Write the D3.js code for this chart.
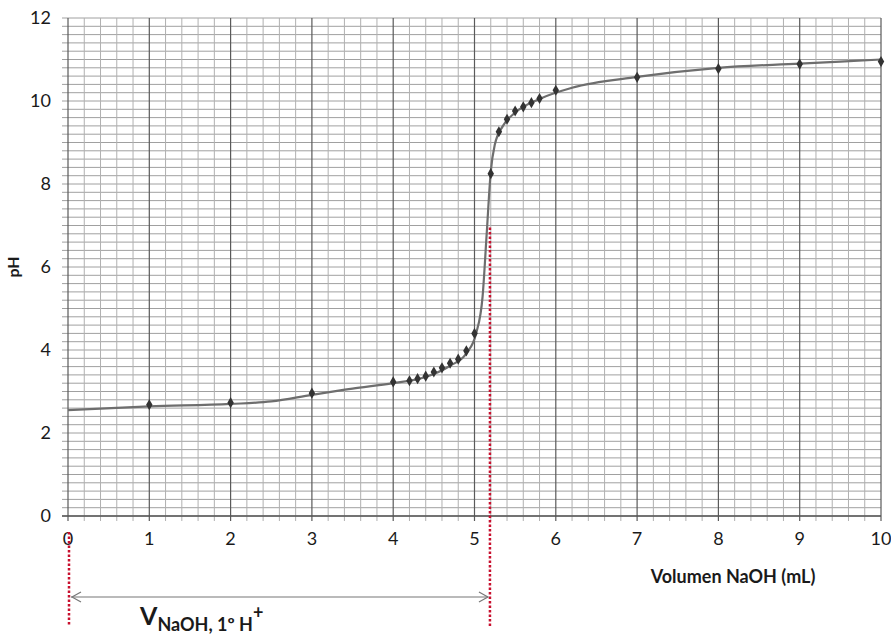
<!DOCTYPE html>
<html>
<head>
<meta charset="utf-8">
<script src="https://cdn.jsdelivr.net/npm/d3@7"></script>
<style>
  body { margin: 0; background: #fff; }
  svg { display: block; }
</style>
</head>
<body>
<div id="chart"></div>
<script>
// measured points (mL NaOH, pH)
const volume = [1, 2, 3, 4, 4.2, 4.3, 4.4, 4.5, 4.6, 4.7, 4.8, 4.9, 5.0, 5.2, 5.3, 5.4, 5.5, 5.6, 5.7, 5.8, 6, 7, 8, 9, 10];
const pH = [2.68, 2.73, 2.96, 3.23, 3.26, 3.31, 3.37, 3.47, 3.57, 3.68, 3.78, 3.98, 4.40, 8.25, 9.26, 9.56, 9.76, 9.86, 9.96, 10.06, 10.26, 10.57, 10.78, 10.89, 10.95];

// hand drawn curve
const curveVol = [0, 1, 2, 2.5, 3, 3.5, 4, 4.4, 4.7, 4.9, 5.02, 5.1, 5.15, 5.2, 5.25, 5.35, 5.5, 5.8, 6.2, 7, 8, 9, 10];
const curvePH = [2.55, 2.64, 2.7, 2.76, 2.92, 3.07, 3.2, 3.35, 3.62, 3.92, 4.4, 5.3, 6.8, 8.3, 8.95, 9.4, 9.72, 10.05, 10.32, 10.58, 10.8, 10.9, 11.0];

const xTicks = [0, 1, 2, 3, 4, 5, 6, 7, 8, 9, 10];
const yTicks = [0, 2, 4, 6, 8, 10, 12];
const equivVol = 5.19; // first equivalence point
const equivTop = 6.95;

const W = 891, H = 636;
const x = d3.scaleLinear().domain([0, 10]).range([68, 881]);
const y = d3.scaleLinear().domain([0, 12]).range([516, 18]);

const svg = d3.select("#chart").append("svg")
  .attr("width", W).attr("height", H)
  .style("font-family", "Lato, 'Open Sans', sans-serif");

// millimetre-ish grid, every 0.2
const minor = d3.range(0, 10.001, 0.2);
const minorY = d3.range(0, 12.001, 0.2);
const isMajor = d => Math.abs(d - Math.round(d)) < 1e-6;

svg.append("g").selectAll("line")
  .data(minorY)
  .enter().append("line")
  .attr("x1", x(0) - 6).attr("x2", x(10))
  .attr("y1", d => y(d)).attr("y2", d => y(d))
  .attr("stroke", "#a0a0a0")
  .attr("stroke-width", 1);

svg.append("g").selectAll("line")
  .data(minor)
  .enter().append("line")
  .attr("x1", d => x(d)).attr("x2", d => x(d))
  .attr("y1", y(12)).attr("y2", y(0) + 5)
  .attr("stroke", d => isMajor(d) ? "#5a5a5a" : "#b0b0b0")
  .attr("stroke-width", d => isMajor(d) ? 1.2 : 1);

// axis line
svg.append("line")
  .attr("x1", x(0) - 6).attr("x2", x(10))
  .attr("y1", y(0)).attr("y2", y(0))
  .attr("stroke", "#555").attr("stroke-width", 1.3);

// tick labels
svg.append("g").selectAll("text")
  .data(yTicks)
  .enter().append("text")
  .attr("x", 51)
  .attr("y", d => y(d) + 6)
  .attr("text-anchor", "end")
  .attr("font-size", "18px")
  .attr("fill", "#1a1a1a")
  .text(d => d);

svg.append("g").selectAll("text")
  .data(xTicks)
  .enter().append("text")
  .attr("x", d => x(d))
  .attr("y", 545)
  .attr("text-anchor", "middle")
  .attr("font-size", "18px")
  .attr("fill", "#1a1a1a")
  .text(d => d);

// axis titles
svg.append("text")
  .attr("x", 733).attr("y", 583)
  .attr("text-anchor", "middle")
  .attr("font-size", "18px")
  .attr("font-weight", "bold")
  .attr("fill", "#1a1a1a")
  .text("Volumen NaOH (mL)");

svg.append("text")
  .attr("transform", "translate(19,267) rotate(-90)")
  .attr("text-anchor", "middle")
  .attr("font-size", "16px")
  .attr("font-weight", "bold")
  .attr("fill", "#1a1a1a")
  .text("pH");

// titration curve
const line = d3.line()
  .x(d => x(d[0]))
  .y(d => y(d[1]))
  .curve(d3.curveMonotoneX);

svg.append("path")
  .datum(curveVol.map((v, i) => [v, curvePH[i]]))
  .attr("d", line)
  .attr("fill", "none")
  .attr("stroke", "#6e6e6e")
  .attr("stroke-width", 2.2);

// markers
svg.append("g").selectAll("path")
  .data(volume.map((v, i) => [v, pH[i]]))
  .enter().append("path")
  .attr("d", d3.symbol().type(d3.symbolDiamond).size(36))
  .attr("transform", d => `translate(${x(d[0])},${y(d[1])})`)
  .attr("fill", "#333");

// red dotted guides
svg.append("line")
  .attr("x1", x(0) + 1).attr("x2", x(0) + 1)
  .attr("y1", 532).attr("y2", 626)
  .attr("stroke", "#c8102e").attr("stroke-width", 2.5)
  .attr("stroke-dasharray", "2.5,2");

svg.append("line")
  .attr("x1", x(equivVol)).attr("x2", x(equivVol))
  .attr("y1", y(equivTop)).attr("y2", 626)
  .attr("stroke", "#c8102e").attr("stroke-width", 2.5)
  .attr("stroke-dasharray", "2.5,2");

// double arrow for the volume
const ay = 597;
const arrow = svg.append("g").attr("stroke", "#777").attr("fill", "none").attr("stroke-width", 1.2);
arrow.append("line").attr("x1", x(0) + 3).attr("x2", x(equivVol) - 2).attr("y1", ay).attr("y2", ay);
arrow.append("path").attr("d", `M${x(0) + 13},${ay - 5}L${x(0) + 4},${ay}L${x(0) + 13},${ay + 5}`);
arrow.append("path").attr("d", `M${x(equivVol) - 11},${ay - 5}L${x(equivVol) - 2},${ay}L${x(equivVol) - 11},${ay + 5}`);

// V label with subscript
const lab = svg.append("text")
  .attr("x", 140).attr("y", 625)
  .attr("font-weight", "bold")
  .attr("fill", "#1a1a1a");
lab.append("tspan").attr("font-size", "25px").text("V");
lab.append("tspan").attr("font-size", "18px").attr("dy", 6).text("NaOH, 1º H");
lab.append("tspan").attr("font-size", "18px").attr("dy", -12).text("+");
</script>
</body>
</html>
